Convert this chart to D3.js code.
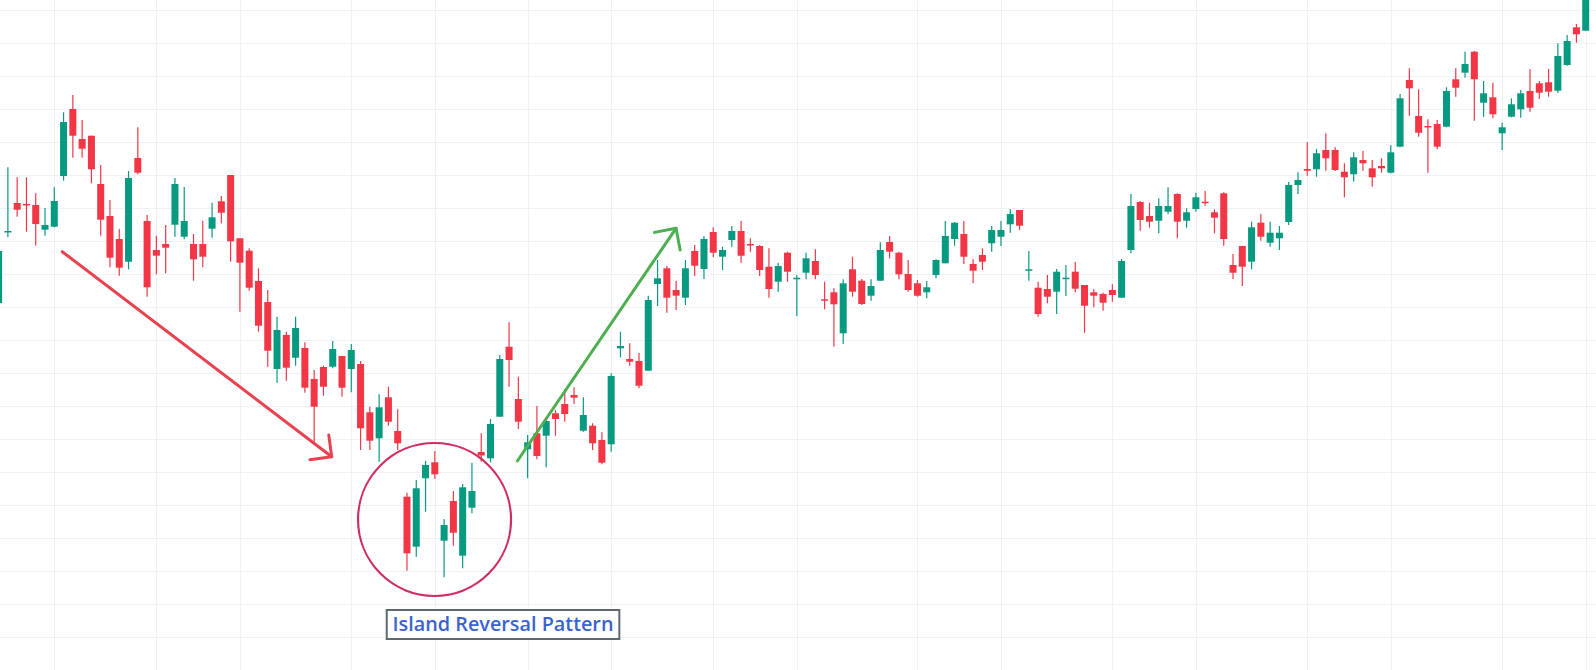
<!DOCTYPE html>
<html>
<head>
<meta charset="utf-8">
<script src="https://cdn.jsdelivr.net/npm/d3@7"></script>
<style>
html,body{margin:0;padding:0;background:#fff;overflow:hidden;}
svg{display:block;}
</style>
</head>
<body>
<svg id="chart" width="1596" height="670"></svg>
<script>
// ---- DATA (price units; candles are indexed sessions) ----
const opens = [367,437.5,467,466,465,440.3,443.3,494,561,531,
534.3,486,454,431,408.3,512,449,420,426,445.3,
433.3,426,426,441.3,468.7,495,431.7,419.3,389,368,
301,335,312.3,322,291,303,303.3,314,301,306,
257.7,231.7,272.7,239,173.3,123.3,191.7,207.7,129.3,169,
114.3,162.3,218,211.7,253.3,323.3,271,220.7,236.7,234.3,
256.7,266,275,239.3,244.3,230,225.7,321.7,311,309,
299.3,386,401.7,380,372.3,419,401,438,413.3,430,
439,426,424,403.3,388.3,417.3,390.7,397.3,409,370.7,
377.7,336.7,400.7,389.3,374.3,389.3,428,417.3,396,386.7,
377.7,395,406.7,431,436,406,415,426.7,433.3,445.7,
460,399.3,382.3,381,378.3,391,398.3,385,377.7,376,
380,372.3,420,468,454,449.3,458.3,476,449.3,461,
468.3,457.7,476.7,405,424,408.3,447.3,427.3,431.7,448,
485,501,500.7,520,520,498.3,495.7,510,501.7,504,
497.3,523.3,590,554,544,546,543.3,590.7,597.3,618.3,
567.3,572.7,536.7,553.3,560.7,579,586.7,587.7,579.3,605,
642.7,639.3];
const highs = [421,502.7,492.7,492.7,476.7,462,482.7,557.7,575,550,
534.3,505,470,441,499,542.7,455,434.3,445,492,
483,436,449.3,467.3,474,495,431.7,421.7,401.7,380,
353.3,338.3,353.3,327.7,300,304.3,329,314.3,326,309,
263.3,275.7,283.3,260.7,177.3,190,209,219,151,179,
186,207.3,236.7,251,315,347.7,293.3,235,264,250,
260,281,282.7,272.7,246.7,237.7,296.7,338.3,326.7,317.3,
374.3,410,404,389,410,425,434,442.7,423.3,444,
449,431.7,425,421.7,407.3,418.3,395,417.3,420.7,388.3,
381.7,390.7,413.3,391,390.7,427.7,434,418.3,410,390,
389,410.7,449,448,449,410.7,421.7,444,449,460.7,
460,419,388.3,395,401,405,408,385,380.7,377.3,
385.7,411,476,469,467.3,471.7,482.7,476.7,461.7,477.3,
479,460.7,477.7,416,424,448.3,456,448.3,444,488,
497.7,527.7,521,536.7,522.7,506.7,517.7,519,510,511.7,
524.7,576,601.7,580.7,550.7,550,582.7,601.7,618.3,619,
589,587.3,547.3,571.7,580,601,589,601,626.7,635,
646,690];
const lows = [364,432.7,453.3,438.3,424.3,434.3,442.7,489.3,512.3,512.3,
486.7,434.3,402.7,394.3,400.7,495.7,373.3,395.7,396.7,433.3,
430.7,389.3,402.7,432.3,446.7,408.3,358.3,379.3,338.3,303.3,
287.3,289.3,304.3,277.3,228.3,274.3,301.7,273.3,277.7,220,
220,208.3,244.3,220,99.3,113.3,158.3,191,92.7,124.3,
101.7,156.7,208.3,207.7,253.3,283.3,241,191.7,210.7,202.7,
234.3,248.3,266,238.3,220,205.7,218.3,312.7,304.3,281.7,
299.3,364,357.3,360,365,394,391,412.7,400,423.3,
407.3,418.3,394,372.3,378.3,388.3,354,390.7,390.7,360.7,
323.3,326,373.3,365,369.3,389,411.7,390.7,378.3,373.3,
371.7,391.7,406.7,424.3,406,386.7,400,418.3,424,437.3,
440,389.3,353.3,366.7,356,374,377.5,337.3,362.7,359.3,
368.3,372.3,416.7,439.3,442.3,436.7,456,431.7,442.3,458.3,
464.3,436.7,424.3,391,384,400.7,429.3,423.3,420,445,
476,494.3,493.3,499.3,499,472.7,488.3,499.3,483.3,497.3,
496.7,522.7,554.3,533.3,497.3,520.7,542.7,573.3,592.3,549.3,
553.3,551.7,520,552.7,552.3,558.3,571,573.3,577.3,604.3,
627.3,639];
const closes = [419,439,460.3,464.8,446,445,469,548,534.3,521.3,
500.7,450.3,412.3,402.3,492,497.3,382.7,414.3,422.3,486,
449,410.7,413.3,452.7,457.3,428.7,407.3,382.3,344.3,319.3,
340,302.3,342,282.3,263.3,283.3,321,282.3,320,241.7,
229.3,262.7,248.3,226.7,116.7,181.7,205,195.7,145,137.3,
182.7,179,214.5,246,311,310,248.3,227.7,214,249,
251,256,272.3,255,226.7,207.3,294,324,308.3,284.3,
370,391.7,372.3,374.3,401.7,404.3,431,417.3,420,439,
414.3,425,400,381,404,398.3,392.3,411.7,395,369.3,
365.7,386.7,378.3,366,384,420,418.3,395.7,380,374.3,
382.7,410,434,447.3,413.3,399.3,408.3,440,440,456,
444.3,400.7,356,373.3,398.3,392.3,381.3,364.3,374.3,367.3,
375,409,464,450,448.3,464,464,448.3,457.7,472.7,
467.3,452.3,431,397.3,403.3,442.7,433.3,437.3,437.3,485,
490,499.3,516.7,511.7,500,492.7,512.7,506.7,492.7,501.7,
517.7,571.7,581.7,537.3,543.3,523.3,579,582.3,606,590.7,
576.7,555.7,542.7,565.7,576.7,562.3,577.3,578.3,614,629,
635.7,685];
// session labels (sequential trading days) and price grid levels
const sessions = opens.map((_, i) => i);
const timeGridSessions = [6,17,26,38,47,57,66,77,86,99,108,120,129,141,150,162,171];
const priceGrid = [33,66,99,132,165,198,231,264,297,330,363,396,429,462,495,528,561,594,627,660];

// annotations in data coordinates (session, price)
const downArrow = {from:[6.86,418.3], to:[35.89,213.3]};
const upArrow = {from:[55.89,209], to:[72.99,441.7]};
const islandRing = {session:46.97, price:150.5, radius:76.5};
const islandLabel = {text:"Island Reversal Pattern", session:54.35, top:60, bottom:31};

// ---- DRAW ----
const W = 1596, H = 670;
const svg = d3.select("#chart");
const x = d3.scaleLinear().domain([0, 171]).range([-1.4, 1585.7]);
const y = d3.scaleLinear().domain([0, 670]).range([670, 0]);

const UP = "#089981", DOWN = "#f23645";

// grid
const grid = svg.append("g").attr("class","grid");
grid.selectAll("line.h").data(priceGrid).join("line")
  .attr("class","h")
  .attr("x1",0).attr("x2",W)
  .attr("y1",d=>Math.round(y(d))+0.5).attr("y2",d=>Math.round(y(d))+0.5)
  .attr("stroke","#f0f1f4").attr("stroke-width",1);
grid.selectAll("line.v").data(timeGridSessions).join("line")
  .attr("class","v")
  .attr("y1",0).attr("y2",H)
  .attr("x1",d=>Math.round(x(d))+0.5).attr("x2",d=>Math.round(x(d))+0.5)
  .attr("stroke","#f0f1f4").attr("stroke-width",1);

// candles
const candles = sessions.map(i => ({i, o:opens[i], h:highs[i], l:lows[i], c:closes[i]}));
const bodyW = 7;
const g = svg.append("g").attr("class","candles");
const cg = g.selectAll("g").data(candles).join("g");
cg.append("line")
  .attr("x1",d=>x(d.i)).attr("x2",d=>x(d.i))
  .attr("y1",d=>y(d.h)).attr("y2",d=>y(d.l))
  .attr("stroke",d=>d.c>=d.o?UP:DOWN).attr("stroke-width",1.2);
cg.append("rect")
  .attr("x",d=>x(d.i)-bodyW/2)
  .attr("width",bodyW)
  .attr("y",d=>y(Math.max(d.o,d.c)))
  .attr("height",d=>Math.max(1.5, Math.abs(y(d.o)-y(d.c))))
  .attr("fill",d=>d.c>=d.o?UP:DOWN);

// arrows
function arrow(a, color){
  const x1=x(a.from[0]), y1=y(a.from[1]), x2=x(a.to[0]), y2=y(a.to[1]);
  const ang=Math.atan2(y2-y1,x2-x1), back=ang+Math.PI, L=22, sp=Math.PI/4;
  const p1=[x2+L*Math.cos(back-sp), y2+L*Math.sin(back-sp)];
  const p2=[x2+L*Math.cos(back+sp), y2+L*Math.sin(back+sp)];
  const ag=svg.append("g").attr("fill","none").attr("stroke",color)
    .attr("stroke-width",3).attr("stroke-linecap","round").attr("stroke-linejoin","round");
  ag.append("line").attr("x1",x1).attr("y1",y1).attr("x2",x2).attr("y2",y2);
  ag.append("path").attr("d",`M${p1[0]},${p1[1]}L${x2},${y2}L${p2[0]},${p2[1]}`);
}
arrow(downArrow, "#e8414f");
arrow(upArrow, "#4caf50");

// ring
svg.append("circle")
  .attr("cx",x(islandRing.session)).attr("cy",y(islandRing.price))
  .attr("r",islandRing.radius)
  .attr("fill","none").attr("stroke","#d02e62").attr("stroke-width",2.2);

// label
const lx = x(islandLabel.session), ty = y(islandLabel.top), by = y(islandLabel.bottom);
const lg = svg.append("g");
const rect = lg.append("rect").attr("fill","#fff").attr("stroke","#5d6873").attr("stroke-width",2);
const txt = lg.append("text")
  .attr("x",lx).attr("y",by-8.5)
  .attr("text-anchor","middle")
  .attr("font-family","'Open Sans', 'Noto Sans', sans-serif")
  .attr("font-weight",600).attr("font-size",20)
  .attr("fill","#3a63cf")
  .text(islandLabel.text);
let tw = txt.node().getComputedTextLength();
const fs = 20*221/tw;
txt.attr("font-size",fs);
const bw = 232.6;
rect.attr("x",lx-bw/2).attr("y",ty).attr("width",bw).attr("height",by-ty);
</script>
</body>
</html>
